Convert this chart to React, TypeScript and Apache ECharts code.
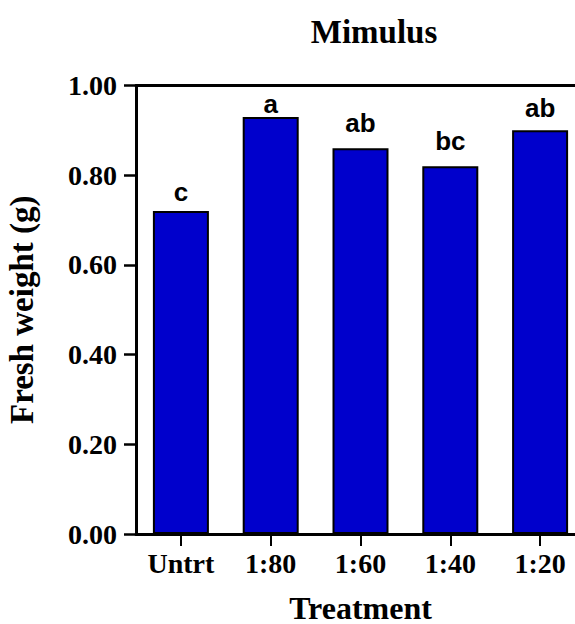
import React, { useEffect, useRef } from "react";
import * as echarts from "echarts";

// Treatment groups and mean fresh weight (g) per group
const categories = ["Untrt", "1:80", "1:60", "1:40", "1:20"];
const freshWeight = [0.72, 0.93, 0.86, 0.82, 0.9];
// Significance group letters shown above each bar
const groupLetters = ["c", "a", "ab", "bc", "ab"];
// Y axis range
const yMin = 0;
const yMax = 1;
const yStep = 0.2;

// Extra lift of each letter above its bar (px)
const letterLift = [6, 0, 12, 12, 9];

const SERIF = "'Liberation Serif', 'Times New Roman', serif";
const SANS = "'Liberation Sans', Arial, sans-serif";

export default function App() {
  const ref = useRef<HTMLDivElement>(null);

  useEffect(() => {
    if (!ref.current) return;
    const chart = echarts.init(ref.current, undefined, { renderer: "svg" });

    const option = {
      animation: false,
      backgroundColor: "#ffffff",
      title: {
        text: "Mimulus",
        left: 369,
        top: 10,
        textAlign: "center",
        textStyle: {
          fontFamily: SERIF,
          fontWeight: "bold",
          fontSize: 33,
          color: "#000",
        },
      },
      grid: {
        left: 136,
        top: 85.5,
        width: 449,
        height: 448.5,
        containLabel: false,
        outerBoundsMode: "none",
      },
      xAxis: [
        {
          type: "category",
          data: categories,
          position: "bottom",
          name: "Treatment",
          nameLocation: "middle",
          nameGap: 59,
          nameTextStyle: {
            fontFamily: SERIF,
            fontWeight: "bold",
            fontSize: 32,
            lineHeight: 29,
            color: "#000",
          },
          axisLine: { show: true, lineStyle: { color: "#000", width: 3 } },
          axisTick: {
            show: true,
            alignWithLabel: true,
            length: 12,
            lineStyle: { color: "#000", width: 2 },
          },
          axisLabel: {
            margin: 15,
            fontFamily: SERIF,
            fontWeight: "bold",
            fontSize: 28,
            color: "#000",
          },
          splitLine: { show: false },
        },
        {
          type: "category",
          data: categories,
          position: "top",
          axisLine: { show: true, lineStyle: { color: "#000", width: 3 } },
          axisTick: { show: false },
          axisLabel: { show: false },
          splitLine: { show: false },
        },
      ],
      yAxis: {
        type: "value",
        min: yMin,
        max: yMax,
        interval: yStep,
        name: "Fresh weight (g)",
        nameLocation: "middle",
        nameRotate: 90,
        nameGap: 98,
        nameTextStyle: {
          fontFamily: SERIF,
          fontWeight: "bold",
          fontSize: 33,
          color: "#000",
        },
        axisLine: { show: true, lineStyle: { color: "#000", width: 3 } },
        axisTick: {
          show: true,
          length: 12,
          lineStyle: { color: "#000", width: 2.5 },
        },
        axisLabel: {
          margin: 19,
          fontFamily: SERIF,
          fontWeight: "bold",
          fontSize: 28,
          color: "#000",
          formatter: (v: number) => v.toFixed(2),
        },
        splitLine: { show: false },
      },
      series: [
        {
          type: "bar",
          xAxisIndex: 0,
          barWidth: 56,
          data: freshWeight.map((v, i) => ({
            value: v,
            label: {
              show: true,
              position: "top",
              distance: letterLift[i],
              formatter: groupLetters[i],
              fontFamily: SANS,
              fontWeight: "bold",
              fontSize: 26,
              color: "#000",
            },
          })),
          itemStyle: {
            color: "#0000CC",
            borderColor: "#000",
            borderWidth: 2,
          },
        },
      ],
    };

    chart.setOption(option);
    return () => chart.dispose();
  }, []);

  return (
    <div
      ref={ref}
      style={{
        position: "fixed",
        left: 0,
        top: 0,
        width: 575,
        height: 624,
        background: "#fff",
      }}
    />
  );
}
